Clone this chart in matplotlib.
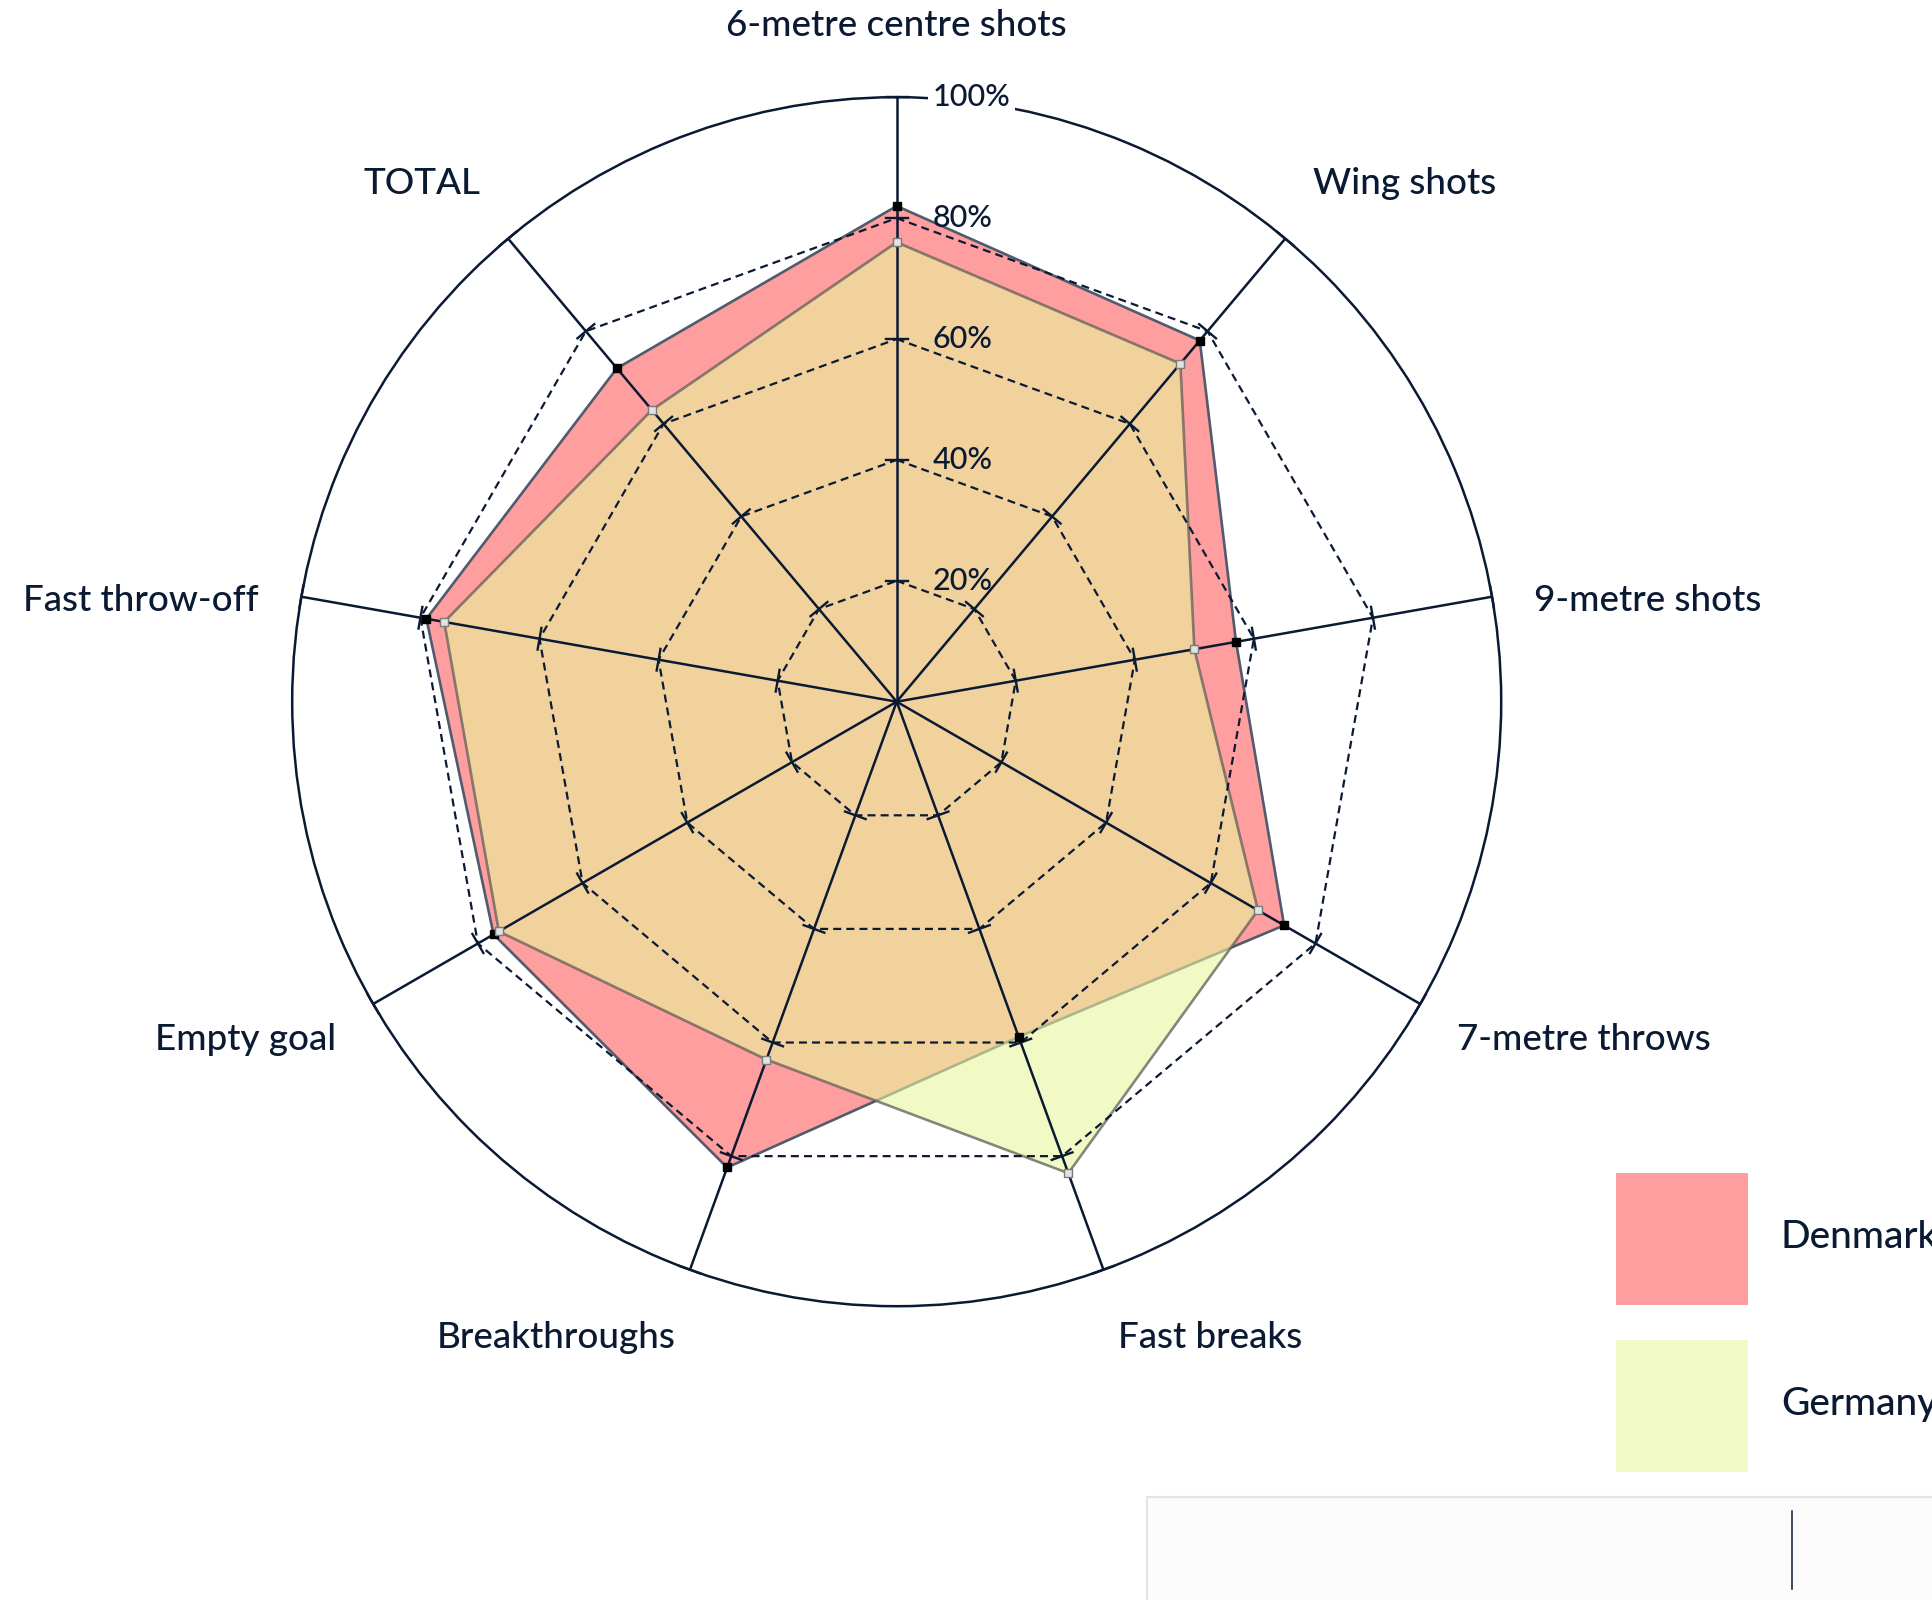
import numpy as np
import matplotlib
matplotlib.use('Agg')
from matplotlib import pyplot as plt
from matplotlib import transforms
from matplotlib.patches import Rectangle
from matplotlib.lines import Line2D

# categories clockwise from the top
categories = ['6-metre centre shots', 'Wing shots', '9-metre shots', '7-metre throws',
              'Fast breaks', 'Breakthroughs', 'Empty goal', 'Fast throw-off', 'TOTAL']
denmark = [82, 78, 57, 74, 59, 82, 77, 79, 72]
germany = [76, 73, 50, 69, 83, 63, 76, 76, 63]
series_names = ['Denmark', 'Germany']
ring_levels = [20, 40, 60, 80, 100]
ring_labels = ['20%', '40%', '60%', '80%', '100%']

NAVY = '#0b1a33'
DK_FILL = '#ff9e9e'
DE_FILL = '#e9f59d'
W, H = 1932, 1600
CX, CY, R = 896.7, 701.7, 604.5   # centre and radius in pixels

plt.rcParams['font.family'] = ['Lato', 'DejaVu Sans']

fig = plt.figure(figsize=(W / 100, H / 100), dpi=100)
ax = fig.add_axes([(CX - R) / W, (H - CY - R) / H, 2 * R / W, 2 * R / H], projection='polar')
ax.set_theta_zero_location('N')
ax.set_theta_direction(-1)
ax.set_ylim(0, 100)
ax.set_xticks([])
ax.set_yticks([])
ax.grid(False)
ax.spines['polar'].set_color(NAVY)
ax.spines['polar'].set_linewidth(1.8)

n = len(categories)
theta = np.arange(n) * 2 * np.pi / n
th_c = np.r_[theta, theta[:1]]


def closed(v):
    return np.r_[v, v[:1]]


# series areas
ax.fill(th_c, closed(denmark), color=DK_FILL, zorder=2)
ax.plot(th_c, closed(denmark), color='#4f5b6e', lw=1.9, zorder=2.1)
ax.fill(th_c, closed(germany), color=DE_FILL, alpha=0.6, zorder=3)
ax.plot(th_c, closed(germany), color='#3c3c46', alpha=0.6, lw=1.9, zorder=3.1)

# dashed polygon rings
for lvl in ring_levels[:-1]:
    ax.plot(th_c, [lvl] * (n + 1), color=NAVY, lw=1.6, ls=(0, (3.6, 2.3)), zorder=4)

# spokes and tick marks
h = 11 / R * 100
for t in theta:
    ax.plot([t, t], [0, 100], color=NAVY, lw=1.8, zorder=4)
    for lvl in ring_levels:
        r2 = np.hypot(lvl, h)
        dt = np.arctan(h / lvl)
        ax.plot([t - dt, t + dt], [r2, r2], color=NAVY, lw=1.7, zorder=4, clip_on=False)

# markers
ax.plot(theta, denmark, 's', ms=5.8, color='black', zorder=5, clip_on=False)
ax.plot(theta, germany, 's', ms=5.8, mfc='#e2e2e2', mec='#7a7a7a', mew=1.0, zorder=6, clip_on=False)

# value labels on the first axis
lab_trans = transforms.offset_copy(ax.transData, fig=fig, x=36, y=0, units='dots')
for lvl, lab in zip(ring_levels, ring_labels):
    kw = {}
    if lvl == 100:
        kw['bbox'] = dict(facecolor='white', edgecolor='none', pad=3)
    ax.text(0, lvl, lab, transform=lab_trans, ha='left', va='center',
            fontsize=22, fontweight='medium', color=NAVY, zorder=10, **kw)

# category labels
for t, name in zip(theta, categories):
    s, c = np.sin(t), np.cos(t)
    ox = 43 * s
    oy = 72 * c if abs(c) > 0.3 else -4
    if abs(s) < 0.1:
        ha = 'center'
    elif s > 0:
        ha = 'left'
    else:
        ha = 'right'
    tr = transforms.offset_copy(ax.transData, fig=fig, x=ox, y=oy, units='dots')
    ax.text(t, 100, name, transform=tr, ha=ha, va='center', fontsize=26.5,
            fontweight='medium', color=NAVY)

# legend
for i, (name, col) in enumerate(zip(series_names, [DK_FILL, DE_FILL])):
    top = 1173 + i * 167
    a = 1.0 if i == 0 else 0.6
    fig.add_artist(Rectangle((1616 / W, 1 - (top + 132) / H), 132 / W, 132 / H,
                             transform=fig.transFigure, facecolor=col, alpha=a,
                             edgecolor='none'))
    fig.text(1781 / W, 1 - (top + 65) / H, name, ha='left', va='center',
             fontsize=28, fontweight='medium', color=NAVY)

# input box at the bottom right
fig.add_artist(Rectangle((1147 / W, -0.05), 0.5, 0.05 + (H - 1497) / H,
                         transform=fig.transFigure, facecolor='#fcfcfd',
                         edgecolor='#e4e4ea', lw=1.6))
fig.add_artist(Line2D([1792 / W, 1792 / W], [1 - 1589 / H, 1 - 1511 / H],
                      transform=fig.transFigure, color=NAVY, lw=1.1))

fig.savefig('out.png', dpi=100, facecolor='white')
